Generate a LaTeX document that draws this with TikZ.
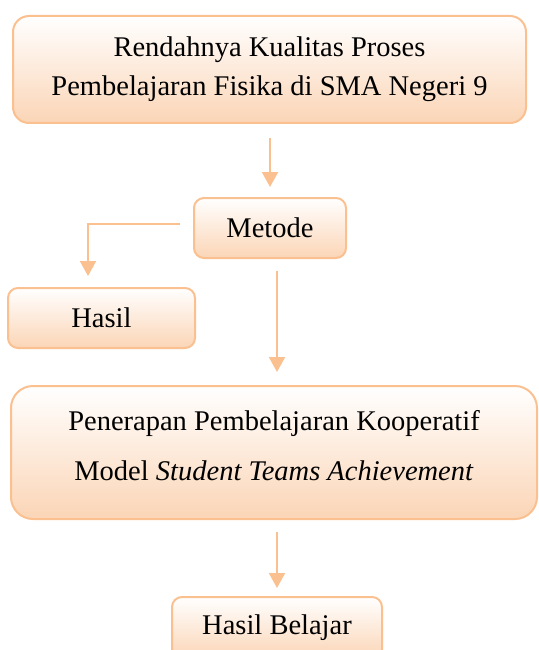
\documentclass[tikz,border=0pt]{standalone}
\usepackage{fontspec}
\setmainfont{Liberation Serif}
\usepackage{tikz}
\usetikzlibrary{arrows.meta,calc,positioning}
\definecolor{peachline}{RGB}{250,192,144}
\definecolor{peachfill}{RGB}{251,213,182}
\tikzset{%
	box/.style      = {draw=peachline, line width=2pt, rounded corners=10pt, top color=white, bottom color=peachfill, align=center, inner sep=0pt, font=\fontsize{28.5}{39}\selectfont}, % Block
	flow/.style     = {draw=peachline, line width=2pt, -{Triangle[width=16pt,length=15pt]}}, % Arrow
	waypoint/.style = {coordinate}, % Bend
}
\begin{document}
\begin{tikzpicture}[x=1pt, y=-1pt]
	\path[use as bounding box, clip] (0,0) rectangle (538,650);
	\node[box, minimum width=513pt, minimum height=107pt, rounded corners=16pt] (rendah) at (269.5,69.5) {Rendahnya Kualitas Proses\\Pembelajaran Fisika di SMA Negeri 9};
	\node[box, minimum width=152pt, minimum height=60pt] (metode) at (270,228) {Metode};
	\node[box, minimum width=187pt, minimum height=60pt] (hasil) at (101.5,318) {Hasil};
	\node[box, minimum width=526pt, minimum height=133pt, rounded corners=22pt, text depth=14pt, font=\fontsize{28.5}{50}\selectfont] (penerapan) at (274,452.5) {Penerapan Pembelajaran Kooperatif\\Model \textit{Student Teams Achievement}};
	\node[box, minimum width=210pt, minimum height=62pt] (belajar) at (277,628) {Hasil Belajar};
	\node[waypoint] (bend) at (88,224) {};
	\draw[flow, shorten <=14pt, shorten >=10pt] (rendah.south -| metode.north) -- (metode.north);
	\draw[flow, shorten >=11pt] ([xshift=-13pt,yshift=4pt]metode.west) -- (bend) -- (bend |- hasil.north);
	\draw[flow, shorten <=12pt, shorten >=13pt] (metode.south -| belajar.north) -- (penerapan.north -| belajar.north);
	\draw[flow, shorten <=12pt, shorten >=8pt] (penerapan.south -| belajar.north) -- (belajar.north);
\end{tikzpicture}
\end{document}
